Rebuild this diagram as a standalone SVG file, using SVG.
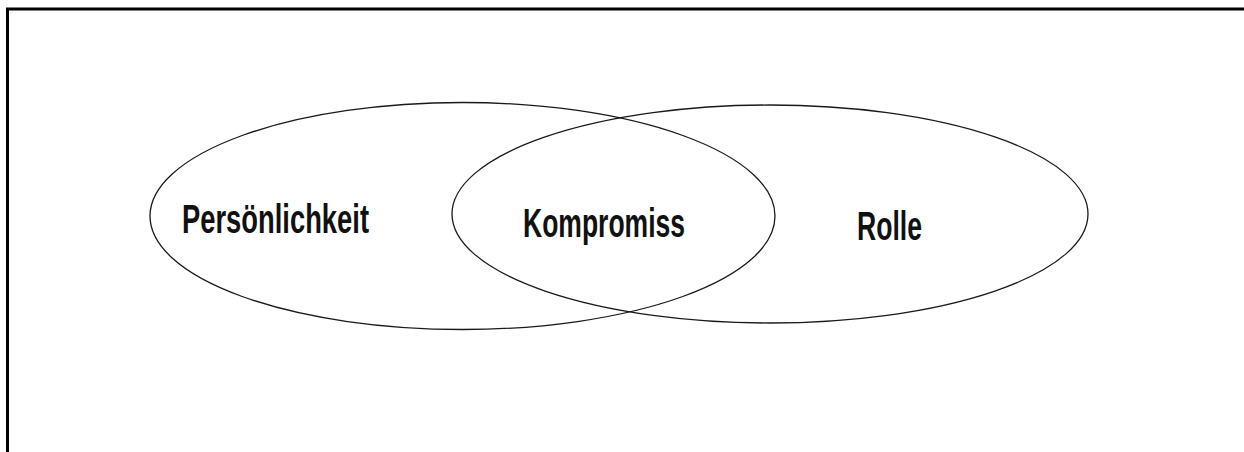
<svg xmlns="http://www.w3.org/2000/svg" width="1244" height="452" viewBox="0 0 1244 452">
  <style>
    .frame { stroke: #000; stroke-width: 3; fill: none; }
    .set { fill: none; stroke: #1a1a1a; stroke-width: 1.3; }
    .label { font-family: "Liberation Sans", Arial, sans-serif; font-weight: bold; font-size: 41px; fill: #111; }
  </style>
  <rect width="1244" height="452" fill="#fff"/>
  <g id="frame">
    <polyline class="frame" points="7.5,452 7.5,9 1244,9"/>
  </g>
  <g id="node-persoenlichkeit">
    <ellipse class="set" cx="462.5" cy="216" rx="312.5" ry="113.5"/>
    <text class="label" x="182" y="233" textLength="187" lengthAdjust="spacingAndGlyphs">Persönlichkeit</text>
  </g>
  <g id="node-rolle">
    <ellipse class="set" cx="770" cy="214" rx="318" ry="109"/>
    <text class="label" x="857" y="240" textLength="65" lengthAdjust="spacingAndGlyphs">Rolle</text>
  </g>
  <g id="node-kompromiss">
    <text class="label" x="523" y="237" textLength="162" lengthAdjust="spacingAndGlyphs">Kompromiss</text>
  </g>
  <g id="connectors"></g>
</svg>
